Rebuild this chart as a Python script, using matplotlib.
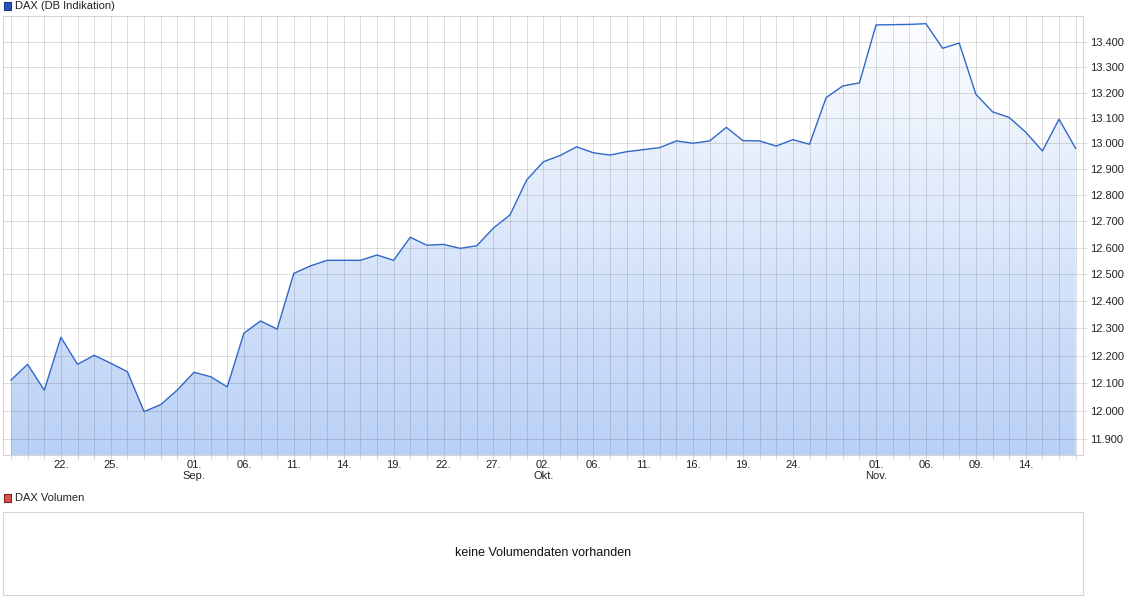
import matplotlib.pyplot as plt
import numpy as np
import pandas as pd
from matplotlib.colors import LinearSegmentedColormap
from matplotlib.patches import Rectangle
from matplotlib.ticker import FixedLocator, FuncFormatter, NullLocator

plt.rcParams["font.family"] = ["Liberation Sans", "DejaVu Sans"]

# trading days (Xetra closed on 03.10. and 31.10.2017)
HOLIDAYS = ["2017-10-03", "2017-10-31"]
dates = pd.bdate_range("2017-08-17", "2017-11-17").drop(pd.to_datetime(HOLIDAYS))

dax = [
    12111, 12168, 12074, 12267, 12168, 12201, 12172, 12141, 11997, 12022,
    12075, 12139, 12123, 12086, 12282, 12327, 12297, 12504, 12532, 12553,
    12553, 12553, 12573, 12553, 12640, 12610, 12613, 12598, 12608, 12675,
    12725, 12859, 12929, 12953, 12987, 12964, 12955, 12968, 12976, 12984,
    13010, 13001, 13010, 13063, 13011, 13010, 12990, 13015, 12997, 13180,
    13226, 13238, 13470, 13471, 13472, 13475, 13376, 13397, 13193, 13124,
    13102, 13044, 12971, 13095, 12981,
]

tick_dates = [
    "2017-08-22", "2017-08-25", "2017-09-01", "2017-09-06", "2017-09-11",
    "2017-09-14", "2017-09-19", "2017-09-22", "2017-09-27", "2017-10-02",
    "2017-10-06", "2017-10-11", "2017-10-16", "2017-10-19", "2017-10-24",
    "2017-11-01", "2017-11-06", "2017-11-09", "2017-11-14",
]
month_labels = {"2017-09-01": "Sep.", "2017-10-02": "Okt.", "2017-11-01": "Nov."}
y_ticks = [11900, 12000, 12100, 12200, 12300, 12400, 12500, 12600,
           12700, 12800, 12900, 13000, 13100, 13200, 13300, 13400]

Y_MIN, Y_MAX = 11842, 13506
GRID = "#5a5a5a"
BORDER = "#d4d4d4"
TEXT = "#222222"

W, H = 1128, 606


def box(x0, y0, x1, y1):
    # pixel box (top-left origin) -> figure fraction rect
    return [x0 / W, 1 - y1 / H, (x1 - x0) / W, (y1 - y0) / H]


def legend_key(fig, x, y, label, face, edge):
    fig.patches.append(Rectangle((x / W, 1 - (y + 4) / H), 7 / W, 8 / H,
                                 transform=fig.transFigure, facecolor=face,
                                 edgecolor=edge, linewidth=0.8))
    fig.text((x + 11) / W, 1 - y / H, label, fontsize=8, color=TEXT,
             ha="left", va="center")


fig = plt.figure(figsize=(W / 100, H / 100), dpi=100)

ax = fig.add_axes(box(3, 16, 1083, 455))
x = np.arange(len(dates))

ax.set_yscale("log")

# gradient area under the line
fill = ax.fill_between(x, dax, Y_MIN, facecolor="none", edgecolor="none")
cmap = LinearSegmentedColormap.from_list("dax_fill", ["#b9d0f6", "#fdfeff"])
grad = np.linspace(0, 1, 256).reshape(-1, 1)
im = ax.imshow(grad, extent=[0, 1, 0, 1], transform=ax.transAxes, origin="lower",
               aspect="auto", cmap=cmap, zorder=1, interpolation="bilinear")
im.set_clip_path(fill.get_paths()[0], transform=ax.transData)
ax.set_xlim(-0.48, len(dates) - 1 + 0.44)
ax.set_ylim(Y_MIN, Y_MAX)

ax.plot(x, dax, color="#3068c8", linewidth=1.0, zorder=3)

# x axis: one grid line per trading day, labels on selected days
labels = []
for d in dates:
    key = d.strftime("%Y-%m-%d")
    if key in tick_dates:
        lab = d.strftime("%d.")
        if key in month_labels:
            lab += "\n" + month_labels[key]
        labels.append(lab)
    else:
        labels.append("")
ax.set_xticks(x)
ax.set_xticklabels(labels, linespacing=1.15)

ax.yaxis.set_major_locator(FixedLocator(y_ticks))
ax.yaxis.set_minor_locator(NullLocator())
ax.yaxis.set_major_formatter(FuncFormatter(lambda v, _: f"{v:,.0f}".replace(",", ".")))
ax.yaxis.tick_right()

ax.tick_params(axis="both", which="both", length=3, width=0.75, color=BORDER,
               labelsize=8, labelcolor=TEXT)
ax.tick_params(axis="x", pad=0.5)
ax.tick_params(axis="y", pad=2)

ax.grid(True, color=GRID, alpha=0.2, linewidth=0.72, snap=True)
ax.set_axisbelow(False)
for sp in ax.spines.values():
    sp.set_color(BORDER)
    sp.set_linewidth(0.75)

legend_key(fig, 4, 6, "DAX (DB Indikation)", "#2456c0", "#1a3a80")

# volume panel
ax_vol = fig.add_axes(box(3, 512, 1083, 595))
ax_vol.set_xticks([])
ax_vol.set_yticks([])
for sp in ax_vol.spines.values():
    sp.set_color(BORDER)
    sp.set_linewidth(0.75)
ax_vol.text(0.5, 0.5, "keine Volumendaten vorhanden", transform=ax_vol.transAxes,
            ha="center", va="center", fontsize=9, color="#111111")

legend_key(fig, 4, 498, "DAX Volumen", "#d9534f", "#7a2020")

fig.savefig("out.png", dpi=100)
